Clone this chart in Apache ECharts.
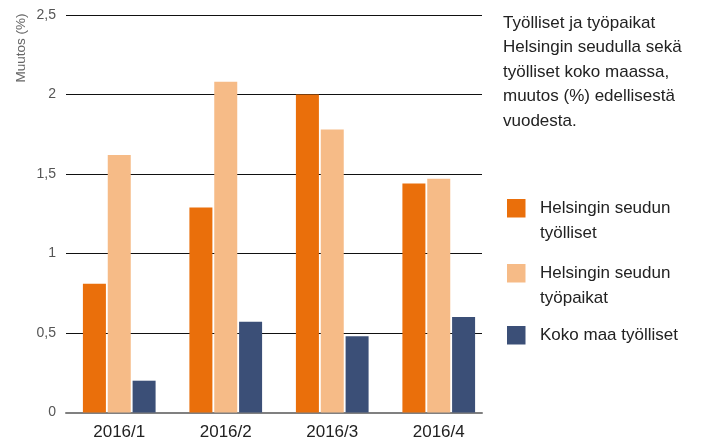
<!DOCTYPE html>
<html>
<head>
<meta charset="utf-8">
<script src="https://cdn.jsdelivr.net/npm/echarts@6/dist/echarts.min.js"></script>
<style>html,body{margin:0;padding:0;background:#fff}#c{width:701px;height:443px}</style>
</head>
<body>
<div id="c"></div>
<script>
const categories = ['2016/1', '2016/2', '2016/3', '2016/4'];
const seriesNames = ['Helsingin seudun\ntyölliset', 'Helsingin seudun\ntyöpaikat', 'Koko maa työlliset'];
const helsinkiEmployed = [0.81, 1.29, 2.0, 1.44];
const helsinkiJobs = [1.62, 2.08, 1.78, 1.47];
const wholeCountryEmployed = [0.20, 0.57, 0.48, 0.60];
const yTicks = [0, 0.5, 1, 1.5, 2, 2.5];
const titleText = 'Työlliset ja työpaikat\nHelsingin seudulla sekä\ntyölliset koko maassa,\nmuutos (%) edellisestä\nvuodesta.';
const yName = 'Muutos (%)';
const colors = ['#EA6F0B', '#F6BB87', '#3B4F77'];

const FONT = 'Liberation Sans';
const chart = echarts.init(document.getElementById('c'), null, {renderer: 'canvas'});

const legendTops = [199, 264, 326];
const legendGraphics = [];
seriesNames.forEach((name, i) => {
  legendGraphics.push({
    type: 'rect', shape: {x: 507, y: legendTops[i], width: 18.5, height: 18.5},
    style: {fill: colors[i]}
  });
  legendGraphics.push({
    type: 'text', x: 540, y: legendTops[i] + 9.5,
    style: {text: name, fontFamily: FONT, fontSize: 17, lineHeight: 24.5, fill: '#222',
            textAlign: 'left', textVerticalAlign: 'top',
            y: -12.25}
  });
});

const option = {
  animation: false,
  title: {
    text: titleText, left: 503, top: 11, padding: 0,
    textStyle: {fontFamily: FONT, fontSize: 17, fontWeight: 'normal', color: '#222', lineHeight: 24.5}
  },
  graphic: [{
    type: 'text', x: 21, y: 48, rotation: Math.PI / 2,
    style: {text: yName, fontFamily: FONT, fontSize: 13.5, fill: '#666', textAlign: 'center', textVerticalAlign: 'middle'}
  }].concat(legendGraphics),
  grid: [
    {left: 66, width: 426, top: 15, height: 397.5},
    {left: 66, width: 416, top: 15, height: 397.5}
  ],
  xAxis: [
    {type: 'category', gridIndex: 0, data: categories,
     axisLine: {show: false}, axisTick: {show: false},
     axisLabel: {fontFamily: FONT, fontSize: 17, color: '#222', margin: 11}},
    {type: 'value', gridIndex: 1, min: 0, max: 1,
     axisLine: {show: true, lineStyle: {color: '#808080', width: 2}},
     axisTick: {show: false}, axisLabel: {show: false}, splitLine: {show: false}}
  ],
  yAxis: [
    {type: 'value', gridIndex: 0, min: 0, max: 2.5, interval: 0.5,
     axisLine: {show: false}, axisTick: {show: false}, axisLabel: {show: false}, splitLine: {show: false}},
    {type: 'value', gridIndex: 1, min: 0, max: 2.5, interval: 0.5,
     axisLine: {show: false}, axisTick: {show: false},
     axisLabel: {fontFamily: FONT, fontSize: 14, color: '#555', margin: 10,
       formatter: v => yTicks.includes(v) ? String(v).replace('.', ',') : ''},
     splitLine: {show: true, lineStyle: {color: '#111', width: 1}}}
  ],
  series: [
    {name: seriesNames[0], type: 'bar', xAxisIndex: 0, yAxisIndex: 0, data: helsinkiEmployed,
     barWidth: 23, barGap: '8%', itemStyle: {color: colors[0]}, z: 3},
    {name: seriesNames[1], type: 'bar', xAxisIndex: 0, yAxisIndex: 0, data: helsinkiJobs,
     barWidth: 23, barGap: '8%', itemStyle: {color: colors[1]}, z: 3},
    {name: seriesNames[2], type: 'bar', xAxisIndex: 0, yAxisIndex: 0, data: wholeCountryEmployed,
     barWidth: 23, barGap: '8%', itemStyle: {color: colors[2]}, z: 3},
    {type: 'line', xAxisIndex: 1, yAxisIndex: 1, data: [], silent: true}
  ]
};
chart.setOption(option);
</script>
</body>
</html>
